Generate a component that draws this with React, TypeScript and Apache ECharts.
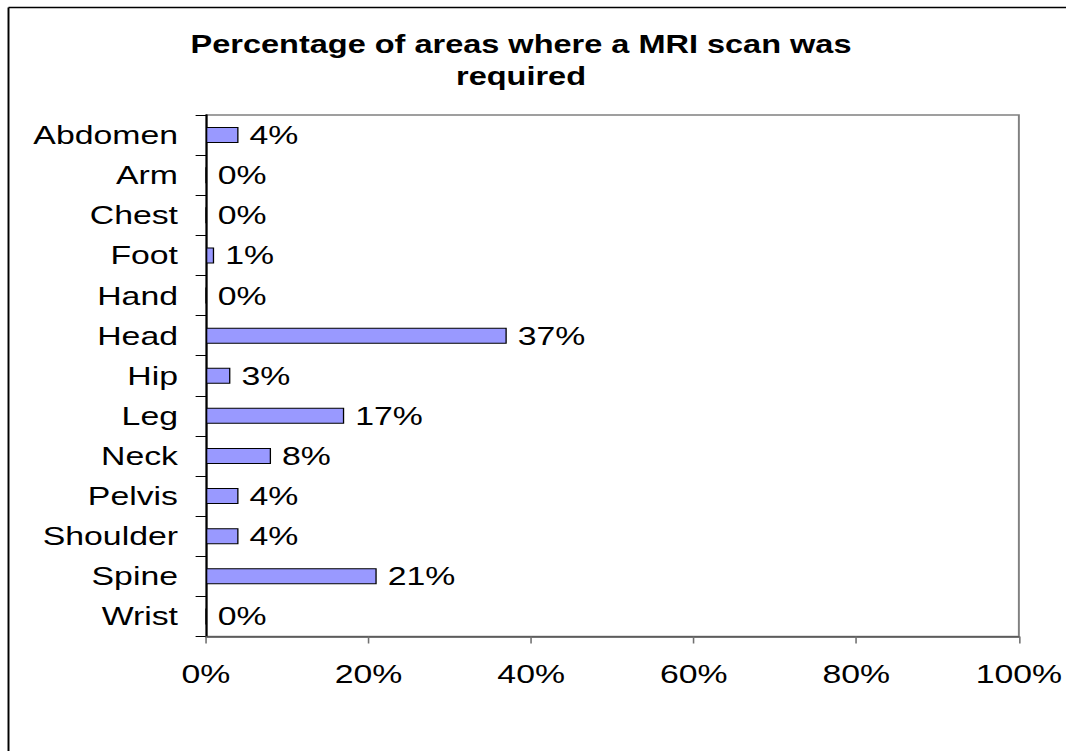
import React, { useEffect, useRef } from "react";
import * as echarts from "echarts";

const categories = ["Abdomen", "Arm", "Chest", "Foot", "Hand", "Head", "Hip", "Leg", "Neck", "Pelvis", "Shoulder", "Spine", "Wrist"];
const percentValues = [4, 0, 0, 1, 0, 37, 3, 17, 8, 4, 4, 21, 0];
const xTicks = { min: 0, max: 100, interval: 20 };
const titleText = "Percentage of areas where a MRI scan was\nrequired";

const SX = 1.3; // horizontal stretch of the reference
const PAGE_W = 1066;
const PAGE_H = 751;
const CW = PAGE_W / SX;

export default function App() {
  const ref = useRef<HTMLDivElement>(null);
  useEffect(() => {
    if (!ref.current) return;
    const chart = echarts.init(ref.current, null, { renderer: "svg" });
    const font = "Liberation Sans";
    const px = (v: number) => v / SX;
    chart.setOption({
      animation: false,
      backgroundColor: "#fff",
      textStyle: { fontFamily: font, color: "#000" },
      title: {
        text: titleText,
        left: px(521),
        top: 28,
        padding: 0,
        textAlign: "center",
        textStyle: { fontFamily: font, fontSize: 25, fontWeight: "bold", color: "#000", lineHeight: 32 },
      },
      graphic: [
        { type: "line", shape: { x1: px(8.5), y1: 7.5, x2: CW, y2: 7.5 }, style: { stroke: "#000", lineWidth: 1.5 } },
        { type: "line", shape: { x1: px(8.5), y1: 7.5, x2: px(8.5), y2: PAGE_H }, style: { stroke: "#000", lineWidth: 1.5 } },
      ],
      grid: {
        left: px(206),
        right: CW - px(1020),
        top: 115,
        bottom: PAGE_H - 636.5,
        show: true,
        borderColor: "#808080",
        borderWidth: 1.5,
        backgroundColor: "transparent",
      },
      xAxis: {
        type: "value",
        min: xTicks.min,
        max: xTicks.max,
        interval: xTicks.interval,
        axisLine: { show: true, lineStyle: { color: "#505050", width: 1.5 } },
        axisTick: { show: true, length: 7, lineStyle: { color: "#707070", width: 1.2 } },
        splitLine: { show: false },
        axisLabel: { formatter: "{value}%", fontSize: 26, color: "#000", fontFamily: font, margin: 24 },
      },
      yAxis: {
        type: "category",
        data: categories,
        inverse: true,
        axisLine: { show: true, lineStyle: { color: "#000", width: 1.5 } },
        axisTick: { show: true, length: 8, lineStyle: { color: "#000", width: 1 } },
        axisLabel: { fontSize: 26, color: "#000", fontFamily: font, margin: px(28) },
        splitLine: { show: false },
      },
      series: [
        {
          type: "bar",
          data: percentValues,
          barWidth: 16,
          itemStyle: { color: "#9999FF", borderColor: "#000", borderWidth: 1 },
          label: {
            show: true,
            position: "right",
            distance: px(11),
            formatter: "{c}%",
            fontSize: 26,
            color: "#000",
            fontFamily: font,
          },
        },
      ],
    });
    return () => chart.dispose();
  }, []);
  return (
    <div
      style={{ position: "fixed", left: 0, top: 0, width: PAGE_W, height: PAGE_H, overflow: "hidden", background: "#fff" }}
    >
      <div
        ref={ref}
        style={{ width: CW, height: PAGE_H, transform: `scaleX(${SX})`, transformOrigin: "0 0" }}
      />
    </div>
  );
}
